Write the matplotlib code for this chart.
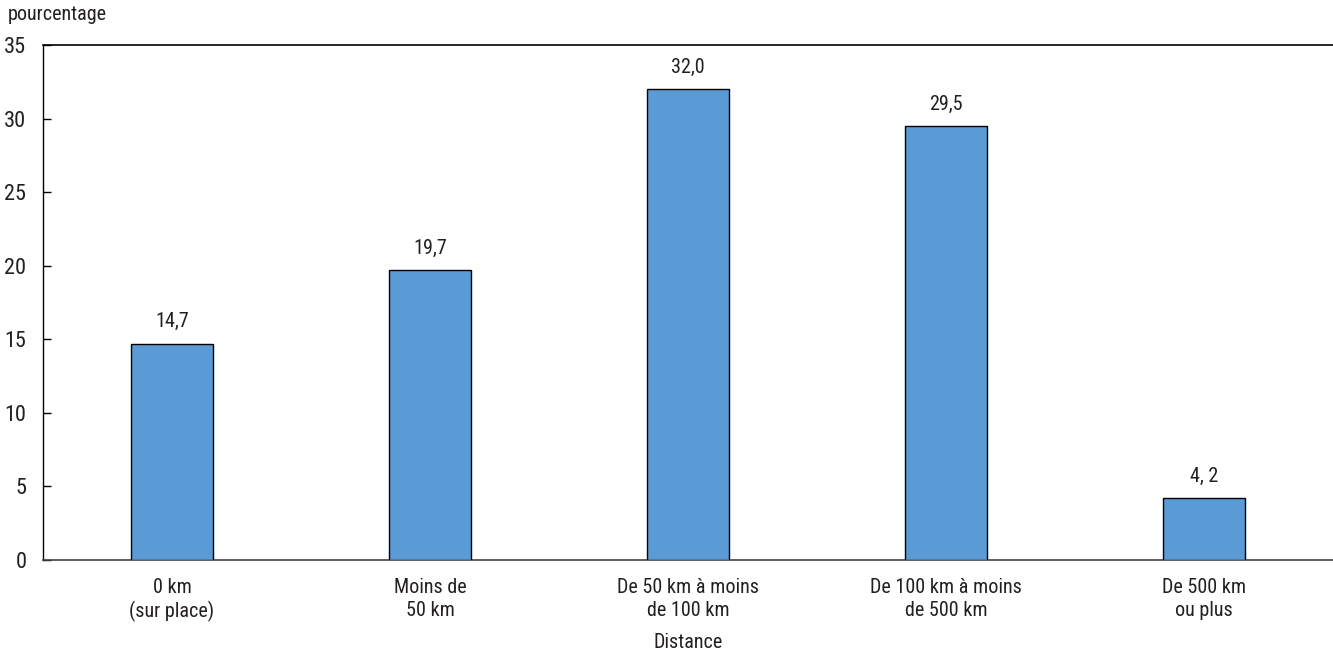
import matplotlib
matplotlib.use("Agg")
import matplotlib.pyplot as plt
from matplotlib import font_manager

categories = ["0 km\n(sur place)", "Moins de\n50 km", "De 50 km à moins\nde 100 km",
              "De 100 km à moins\nde 500 km", "De 500 km\nou plus"]
values = [14.7, 19.7, 32.0, 29.5, 4.2]
value_labels = ["14,7", "19,7", "32,0", "29,5", "4, 2"]
yticks = [0, 5, 10, 15, 20, 25, 30, 35]

names = {f.name for f in font_manager.fontManager.ttflist}
fam = "Roboto"
for cand in ["Liberation Sans Narrow", "Roboto Condensed", "Arial Narrow", "Nimbus Sans Narrow"]:
    if cand in names:
        fam = cand
        break
plt.rcParams["font.family"] = [fam, "DejaVu Sans"]
txt = "#231f20"
fs = 14.5

fig = plt.figure(figsize=(13.33, 6.54), dpi=100)
ax = fig.add_axes([43/1333, (654-560)/654, 1 - 43/1333, (560-45)/654])

x = list(range(len(values)))
ax.bar(x, values, width=0.314, color="#5b9bd5", edgecolor="black", linewidth=1.0, zorder=3)
for xi, v, lab in zip(x, values, value_labels):
    ax.annotate(lab, (xi, v), xytext=(0, 9), textcoords="offset points",
                ha="center", va="bottom", fontsize=fs, color=txt)

ax.set_xlim(-0.5, 4.5)
ax.set_ylim(0, 35)
ax.set_yticks(yticks)
ax.set_yticklabels([str(t) for t in yticks])
ax.set_xticks(x)
ax.set_xticklabels(categories, fontsize=fs, color=txt, linespacing=1.25)
ax.tick_params(axis="x", length=0, pad=13)
ax.tick_params(axis="y", direction="in", length=6, width=1, labelsize=16, labelcolor=txt, pad=12)
ax.spines["right"].set_visible(False)
ax.spines["top"].set_linewidth(1.2)
ax.spines["left"].set_linewidth(1.0)
ax.spines["bottom"].set_color("#444444")
ax.spines["bottom"].set_linewidth(1.2)
ax.set_xlabel("Distance", fontsize=fs, color=txt, labelpad=8)
fig.text(8/1333, 1 - 14/654, "pourcentage", fontsize=fs, color=txt, ha="left", va="center")

fig.savefig("out.png", dpi=100)
